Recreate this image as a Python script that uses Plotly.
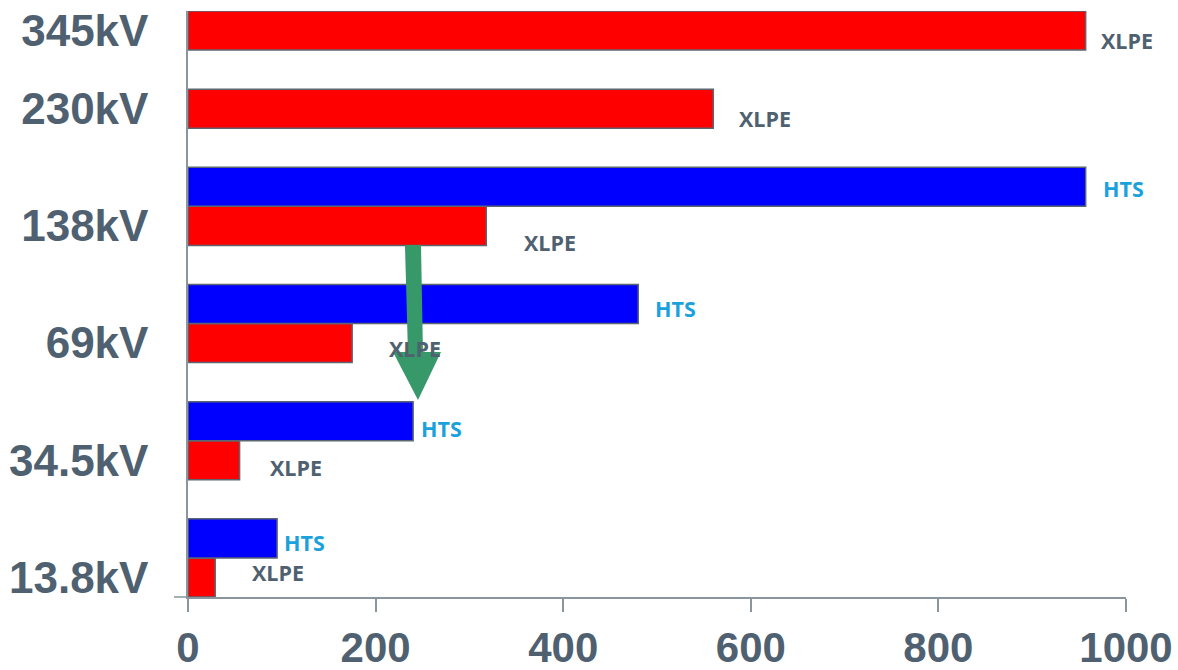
import plotly.graph_objects as go

# ---- data ----
voltages = ["13.8kV", "34.5kV", "69kV", "138kV", "230kV", "345kV"]
hts_values = [95, 240, 480, 957, None, None]
xlpe_values = [29, 55, 175, 318, 560, 957]
x_ticks = [0, 200, 400, 600, 800, 1000]

# ---- layout helpers (row slots on the y axis) ----
xlpe_slot = [0, 3, 6, 9, 12, 14]
hts_slot = [s + 1 for s in xlpe_slot]

# label offsets in px (xshift, yshift)
xlpe_off = [(35, 5), (28, -7), (35, -5), (36, -17), (24, -10), (13, -10)]
hts_off = [(5, -4), (6, -7), (15, -4), (15, -2), None, None]

TXT = "#4f6170"
HTS_TXT = "#1ba1dc"
AXIS = "#8a959e"
OUTLINE = "#5c6670"

fig = go.Figure()
fig.add_trace(go.Bar(
    y=xlpe_slot, x=xlpe_values, orientation="h", width=1,
    marker=dict(color="#ff0000", line=dict(color=OUTLINE, width=1.5)),
    name="XLPE", hoverinfo="skip"))
hy = [s for s, v in zip(hts_slot, hts_values) if v is not None]
hx = [v for v in hts_values if v is not None]
fig.add_trace(go.Bar(
    y=hy, x=hx, orientation="h", width=1,
    marker=dict(color="#0000ff", line=dict(color=OUTLINE, width=1.5)),
    name="HTS", hoverinfo="skip"))

annots = []
for v, s, off in zip(xlpe_values, xlpe_slot, xlpe_off):
    annots.append(dict(x=v, y=s, xref="x", yref="y", text="XLPE", showarrow=False,
                       xanchor="left", yanchor="middle", xshift=off[0], yshift=off[1],
                       font=dict(family="Open Sans", size=21.5, color=TXT, weight="bold")))
for v, s, off in zip(hts_values, hts_slot, hts_off):
    if v is None:
        continue
    annots.append(dict(x=v, y=s, xref="x", yref="y", text="HTS", showarrow=False,
                       xanchor="left", yanchor="middle", xshift=off[0], yshift=off[1],
                       font=dict(family="Open Sans", size=21.5, color=HTS_TXT, weight="bold")))

# green arrow (annotation graphic)
arrow_path = ("M 231.3 8.51 L 248.4 8.51 L 250.5 5.77 L 269.7 5.77 L 245.2 4.54 "
              "L 218.6 5.77 L 234.5 5.77 Z")
shapes = [
    dict(type="path", xref="x", yref="y", path=arrow_path,
         fillcolor="#37986a", line=dict(width=0), layer="above"),
    dict(type="line", xref="paper", yref="paper", x0=-14 / 938, x1=0, y0=0, y1=0,
         line=dict(color=AXIS, width=1.5)),
]

fig.update_layout(
    width=1178, height=670,
    margin=dict(l=188, r=52, t=11, b=73, autoexpand=False),
    paper_bgcolor="white", plot_bgcolor="white",
    showlegend=False, barmode="overlay",
    annotations=annots, shapes=shapes,
    font=dict(family="Liberation Sans, Arial", color=TXT),
)
fig.update_xaxes(
    range=[0, 1000], tickvals=x_ticks, ticktext=[str(t) for t in x_ticks],
    automargin=False,
    showgrid=False, zeroline=False, showline=True, linecolor=AXIS, linewidth=1.5,
    ticks="outside", ticklen=13, tickcolor=AXIS, tickwidth=1.5,
    tickfont=dict(family="Liberation Sans, Arial", size=42, color=TXT, weight="bold"),
)
fig.update_yaxes(
    range=[-0.5, 14.5], tickvals=xlpe_slot, ticktext=voltages,
    automargin=False,
    showgrid=False, zeroline=False, showline=True, linecolor=AXIS, linewidth=1.5,
    ticks="outside", ticklen=29, tickcolor="rgba(0,0,0,0)",
    tickfont=dict(family="Liberation Sans, Arial", size=44, color=TXT, weight="bold"),
)

fig.write_html("out.html")
